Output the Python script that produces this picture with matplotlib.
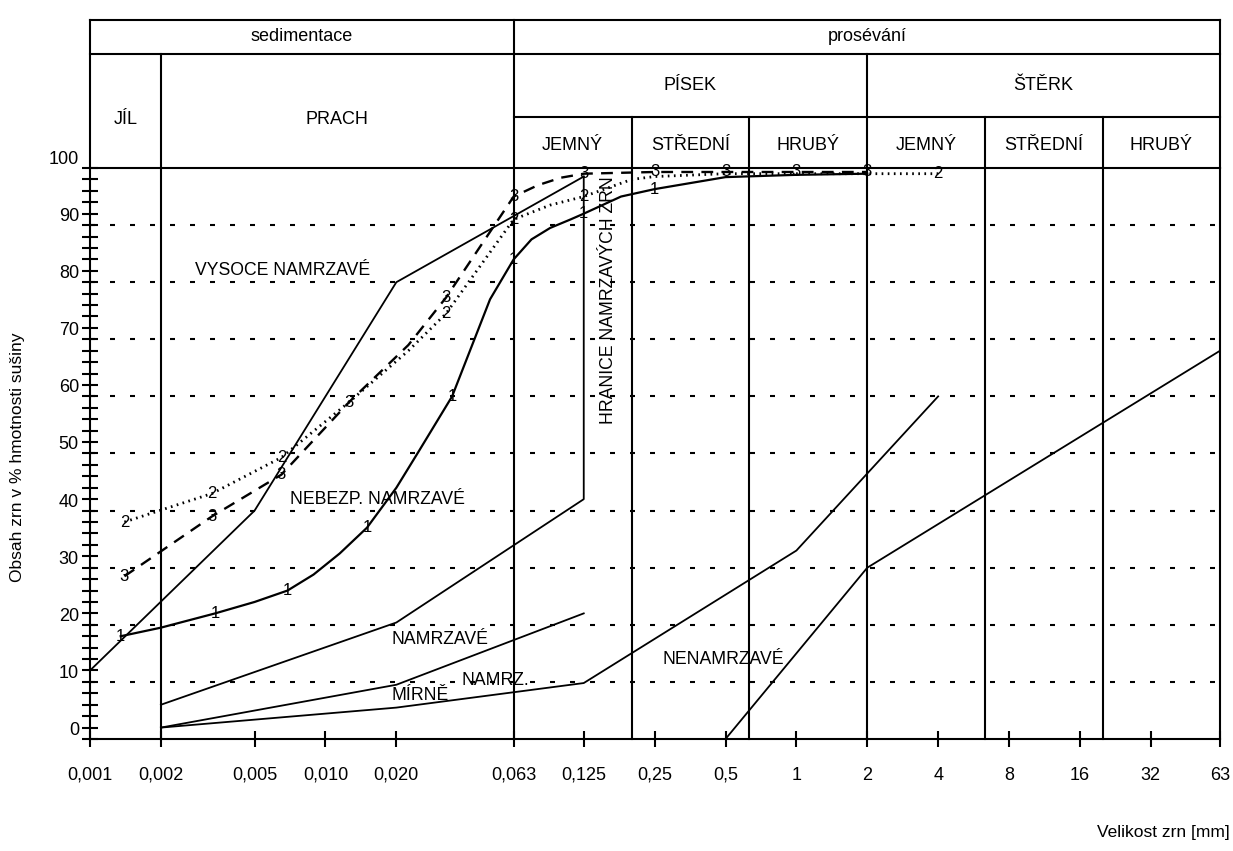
import matplotlib
matplotlib.use("Agg")
import numpy as np
import matplotlib.pyplot as plt
from matplotlib.ticker import NullLocator, MultipleLocator

plt.rcParams['font.family'] = ['Liberation Sans', 'DejaVu Sans']

# osa x - velikost zrn [mm]
x_ticks = [0.001, 0.002, 0.005, 0.010, 0.020, 0.063, 0.125, 0.25, 0.5, 1, 2, 4, 8, 16, 32, 63]
x_labels = ['0,001', '0,002', '0,005', '0,010', '0,020', '0,063', '0,125',
            '0,25', '0,5', '1', '2', '4', '8', '16', '32', '63']

# krivka 1 (plna)
d1 = [0.00135, 0.002, 0.0034, 0.005, 0.0069, 0.0089, 0.0115, 0.015, 0.02, 0.025,
      0.0345, 0.05, 0.063, 0.075, 0.09, 0.11, 0.125, 0.18, 0.25, 0.5, 1, 2]
p1 = [18, 19.5, 22, 24, 26, 28.8, 32.5, 37, 44, 50.5,
      60, 77, 84, 87.5, 89.5, 91, 92, 95, 96.3, 98.4, 98.8, 99]
m1 = [0, 2, 4, 7, 10, 12, 16, 18]

# krivka 2 (teckovana)
d2 = [0.0014, 0.0033, 0.0065, 0.0126, 0.0225, 0.0325, 0.063, 0.09, 0.125, 0.2, 0.25, 0.5, 1, 2, 4]
p2 = [38, 43, 49.3, 59, 68, 74.5, 91, 93.5, 95, 98, 98.5, 99, 99, 99, 99]
m2 = [0, 1, 2, 5, 6, 8, 14]

# krivka 3 (carkovana)
d3 = [0.0014, 0.0033, 0.0065, 0.0126, 0.0225, 0.0325, 0.063, 0.08, 0.1, 0.125, 0.25, 0.5, 1, 2]
p3 = [28.5, 39, 46.3, 59, 69, 77.3, 95, 97, 98.3, 99, 99.3, 99.3, 99.3, 99.3]
m3 = [0, 1, 2, 3, 5, 6, 9, 10, 11, 12, 13]

# hranice oblasti namrzavosti
bA_d = [0.001, 0.005, 0.02, 0.125]
bA_p = [12, 40, 80, 98.5]
bB_d = [0.002, 0.02, 0.125, 0.125]
bB_p = [6, 20.4, 42, 98.5]
bC_d = [0.002, 0.02, 0.125]
bC_p = [2, 9.5, 22]
bD_d = [0.002, 0.02, 0.125, 1, 4]
bD_p = [2, 5.5, 9.8, 33, 60]
bE_d = [0.5, 2, 63]
bE_p = [0, 30, 68]

fig = plt.figure(figsize=(12.33, 8.51), dpi=100)
ax = fig.add_axes([0.0730, 0.1316, 0.9165, 0.6710])
ax.set_xscale('log')
ax.set_xlim(0.001, 63)
ax.set_ylim(0, 100)
for s in ax.spines.values():
    s.set_linewidth(1.5)

ax.set_xticks(x_ticks, x_labels)
ax.xaxis.set_minor_locator(NullLocator())
ax.tick_params(axis='x', direction='inout', length=12, width=1.5, pad=14, labelsize=13)
ax.set_yticks(range(0, 101, 10), [str(v) for v in range(0, 101, 10)], va='bottom')
ax.yaxis.set_minor_locator(MultipleLocator(2))
ax.tick_params(axis='y', which='both', direction='inout', length=12, width=1.5, pad=2, labelsize=13)

# mrizka
for g in range(10, 100, 10):
    ax.plot([0.001, 63], [g, g], color='k', lw=1.5, ls=(0, (2.4, 7.2)))

# hlavicka tabulky
kw = dict(color='k', lw=1.5, clip_on=False)
ax.plot([0.001, 63], [126, 126], **kw)
ax.plot([0.001, 63], [120, 120], **kw)
ax.plot([0.063, 63], [109, 109], **kw)
ax.plot([0.001, 0.001], [100, 126], **kw)
ax.plot([63, 63], [100, 126], **kw)
for xv, top in [(0.002, 120), (0.063, 126), (0.2, 109), (0.63, 109),
                (2, 120), (6.3, 109), (20, 109)]:
    ax.plot([xv, xv], [0, top], **kw)

hfs = 13
ax.text(np.sqrt(0.001 * 0.063), 123, 'sedimentace', ha='center', va='center', fontsize=hfs)
ax.text(np.sqrt(0.063 * 63), 123, 'prosévání', ha='center', va='center', fontsize=hfs)
ax.text(np.sqrt(0.001 * 0.002), 108.5, 'JÍL', ha='center', va='center', fontsize=hfs)
ax.text(np.sqrt(0.002 * 0.063), 108.5, 'PRACH', ha='center', va='center', fontsize=hfs)
ax.text(np.sqrt(0.063 * 2), 114.5, 'PÍSEK', ha='center', va='center', fontsize=hfs)
ax.text(np.sqrt(2 * 63), 114.5, 'ŠTĚRK', ha='center', va='center', fontsize=hfs)
sub = ['JEMNÝ', 'STŘEDNÍ', 'HRUBÝ']
edges = [0.063, 0.2, 0.63, 2, 6.3, 20, 63]
for i in range(6):
    ax.text(np.sqrt(edges[i] * edges[i + 1]), 104, sub[i % 3], ha='center', va='center', fontsize=hfs)

# hranice
for bd, bp in [(bA_d, bA_p), (bB_d, bB_p), (bC_d, bC_p), (bD_d, bD_p), (bE_d, bE_p)]:
    ax.plot(bd, bp, color='k', lw=1.3)

# zrnitostni krivky
ax.plot(d1, p1, color='k', lw=1.6)
ax.plot(d2, p2, color='k', lw=2.0, ls=(0, (0.6, 1.6)))
ax.plot(d3, p3, color='k', lw=1.7, ls=(0, (5, 3.5)))
for dd, pp, mm, lab in [(d1, p1, m1, '1'), (d2, p2, m2, '2'), (d3, p3, m3, '3')]:
    for i in mm:
        ax.text(dd[i], pp[i], lab, ha='center', va='center', fontsize=12)

# popisky oblasti
tfs = 12.7
ax.text(0.0028, 82, 'VYSOCE NAMRZAVÉ', ha='left', va='center', fontsize=tfs)
ax.text(0.0071, 42, 'NEBEZP. NAMRZAVÉ', ha='left', va='center', fontsize=tfs)
ax.text(0.019, 17.5, 'NAMRZAVÉ', ha='left', va='center', fontsize=tfs)
ax.text(0.019, 7.7, 'MÍRNĚ', ha='left', va='center', fontsize=tfs)
ax.text(0.038, 10.2, 'NAMRZ.', ha='left', va='center', fontsize=tfs)
ax.text(0.27, 14, 'NENAMRZAVÉ', ha='left', va='center', fontsize=tfs)
ax.text(0.16, 98.5, 'HRANICE NAMRZAVÝCH ZRN', ha='center', va='top', rotation=90, fontsize=tfs)

fig.text(18 / 1233, 1 - 457 / 851, 'Obsah zrn v % hmotnosti sušiny', rotation=90,
         ha='center', va='center', fontsize=12.5)
fig.text(1230 / 1233, 1 - 832 / 851, 'Velikost zrn [mm]', ha='right', va='center', fontsize=12.5)

fig.savefig('out.png', dpi=100)
